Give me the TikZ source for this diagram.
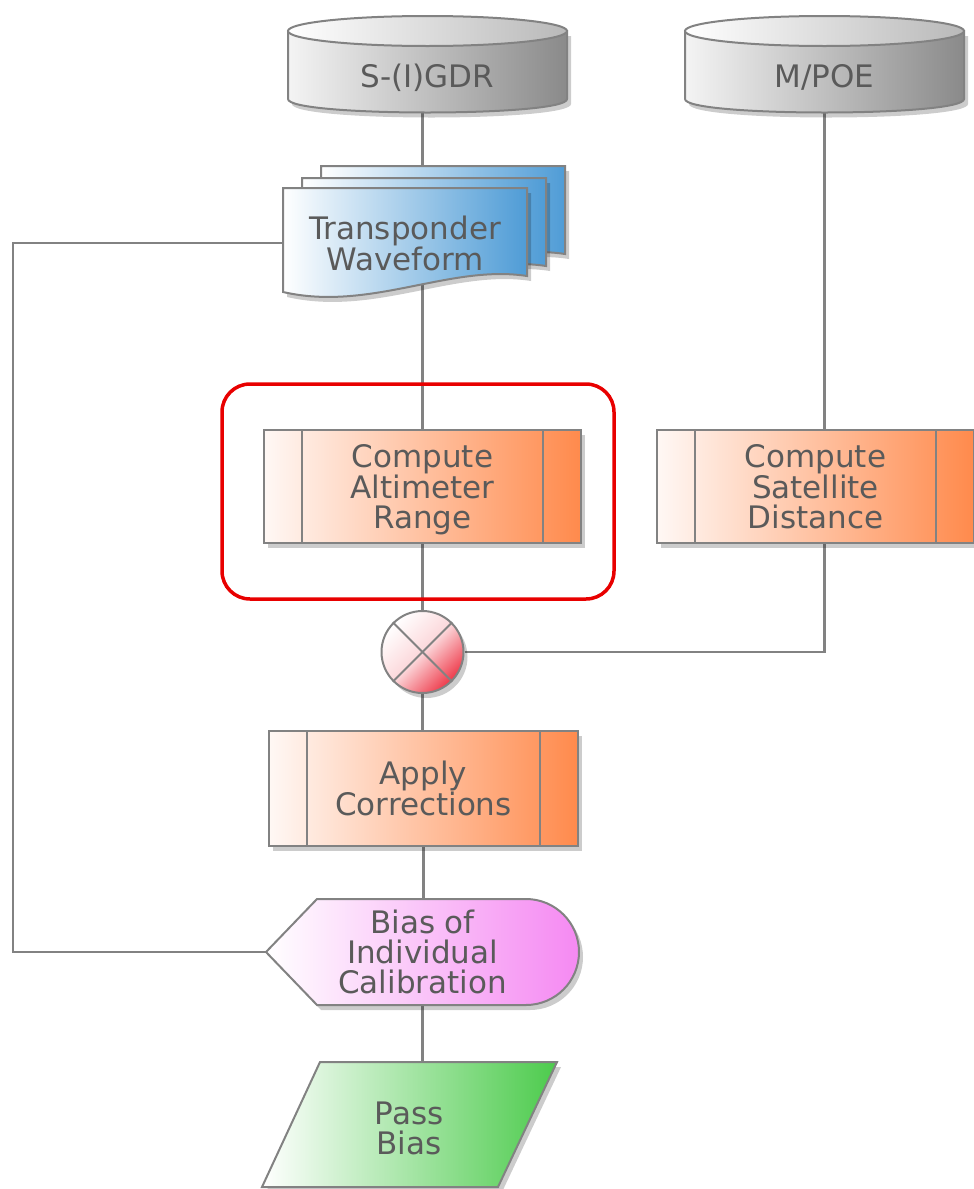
\documentclass[tikz,border=0pt]{standalone}
\usepackage{fontspec}
\setmainfont{DejaVu Sans}
\usetikzlibrary{shadows}
\pgfdeclarelayer{bg}
\pgfdeclarelayer{mid}
\pgfsetlayers{bg,mid,main}
\definecolor{lc}{HTML}{828282}
\definecolor{tc}{HTML}{5A5A5A}
\definecolor{org}{HTML}{FF8A4C}
\definecolor{orgl}{HTML}{FFF8F5}
\definecolor{blu}{HTML}{4F9CD6}
\definecolor{pnk}{HTML}{F589F2}
\definecolor{grn}{HTML}{4CCB4C}
\definecolor{rd}{HTML}{EE3A4A}
\definecolor{gyd}{HTML}{8A8A8A}
\definecolor{gyl}{HTML}{F4F4F4}
\definecolor{hl}{HTML}{E80000}
\tikzset{
  lbl/.style={text=tc, align=center, font=\fontsize{31}{30}\selectfont, inner sep=0pt, text depth=0pt},
  sh/.style={drop shadow={shadow xshift=4pt, shadow yshift=-5pt, opacity=0.2, fill=black}},
  outl/.style={draw=lc, line width=2pt},
  conn/.style={draw=lc, line width=2.5pt},
  proc/.style={lbl, outl, sh, left color=orgl, right color=org, minimum height=113pt},
}
\begin{document}
\begin{tikzpicture}[x=1pt, y=-1pt]
\useasboundingbox (0,0) rectangle (974,1189);

% ---------- cylinders ----------
\begin{pgfonlayer}{mid}
\path[outl, sh, left color=gyl, right color=gyd]
  (288,31) -- (288,99) .. controls (288,117) and (567,117) .. (567,99) -- (567,31) -- cycle;
\path[outl, left color=white, right color=gray!55] (427.5,31) ellipse [x radius=139.5pt, y radius=15pt];
\path[outl, sh, left color=gyl, right color=gyd]
  (685,31) -- (685,99) .. controls (685,117) and (964,117) .. (964,99) -- (964,31) -- cycle;
\path[outl, left color=white, right color=gray!55] (824.5,31) ellipse [x radius=139.5pt, y radius=15pt];

% ---------- document stack ----------
\foreach \dx/\dy in {38/-22, 19/-10, 0/0}{
  \begin{scope}[shift={(\dx,\dy)}]
  \path[outl, sh, left color=white, right color=blu]
    (283,188) -- (527,188) -- (527,276) .. controls (450,264) and (370,312) .. (283,292) -- cycle;
  \end{scope}
}

% ---------- bias display ----------
\path[outl, sh, left color=white, right color=pnk]
  (266,952) -- (317,899) -- (526,899) arc[start angle=90, end angle=-90, radius=53pt] -- (317,1005) -- cycle;

% ---------- pass bias ----------
\path[outl, sh, left color=white, right color=grn]
  (320,1062) -- (557,1062) -- (498,1187) -- (262,1187) -- cycle;
\end{pgfonlayer}

% ---------- nodes ----------
\node[lbl, minimum width=279pt, minimum height=74pt] (gdr) at (427.5,76) {S-(I)GDR};
\node[lbl, minimum width=279pt, minimum height=74pt] (mpoe) at (824.5,76) {M/POE};
\node[lbl, minimum width=244pt, minimum height=100pt] (wave) at (405,243) {Transponder\\Waveform};

\node[proc, minimum width=317pt] (car) at (422.5,486.5) {Compute\\Altimeter\\Range};
\node[proc, minimum width=317pt] (csd) at (815.5,486.5) {Compute\\Satellite\\Distance};
\node[proc, minimum width=309pt, minimum height=115pt] (ac) at (423.5,788.5) {Apply\\Corrections};

\node[circle, outl, sh, minimum size=82pt, inner sep=0pt, top color=white, bottom color=rd, middle color=rd!20, shading angle=45] (xc) at (422.5,652) {};
\draw[outl] (xc.north west) -- (xc.south east);
\draw[outl] (xc.north east) -- (xc.south west);

\foreach \n in {car, csd, ac}{
  \draw[outl] ([xshift=39pt]\n.north west) -- ([xshift=39pt]\n.south west);
  \draw[outl] ([xshift=-39pt]\n.north east) -- ([xshift=-39pt]\n.south east);
}

\node[lbl, minimum width=313pt, minimum height=106pt] (bias) at (422.5,952) {Bias of\\Individual\\Calibration};
\node[lbl, minimum width=240pt, minimum height=132pt] (pb) at (409,1128) {Pass\\Bias};

\node[draw=hl, line width=3.5pt, rounded corners=28pt, minimum width=392pt, minimum height=215pt] (hlbox) at (418,491.5) {};

\coordinate (loop) at (13,600);

% ---------- connectors ----------
\begin{pgfonlayer}{bg}
\draw[conn] (car.north) -- (car.north |- gdr.south);
\draw[conn] (mpoe.south) -- (mpoe.south |- csd.north);
\draw[conn] (wave.west) -- (wave.west -| loop) -- (loop |- bias.west) -- (bias.west);
\draw[conn] (car.south) -- (xc.north);
\draw[conn] (xc.east) -| (mpoe.south |- csd.south);
\draw[conn] (xc.south) -- (xc.south |- ac.north);
\draw[conn] (ac.south) -- (ac.south |- bias.north);
\draw[conn] (bias.south) -- (bias.south |- pb.north);
\end{pgfonlayer}
\end{tikzpicture}
\end{document}
